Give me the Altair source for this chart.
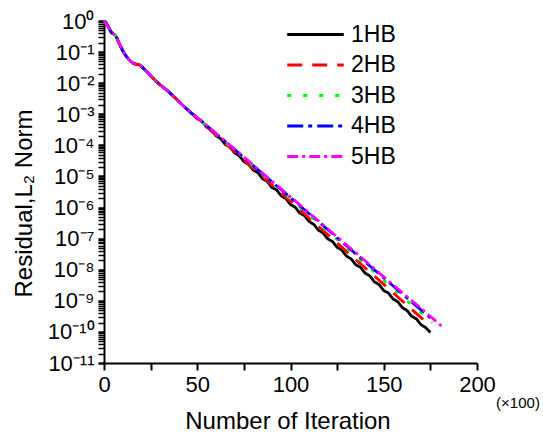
import altair as alt
import pandas as pd

FONT = "Liberation Sans"

series_names = ["1HB", "2HB", "3HB", "4HB", "5HB"]
series_colors = ["#000000", "#ff0000", "#00ff00", "#0000ff", "#ff00ff"]
series_dashes = [[1, 0], [15, 10], [4, 12], [16, 5, 4, 5], [11, 4, 3, 4]]

# iteration (x100) and log10 of residual
x_1hb = [0, 1, 2, 3, 4, 5, 6, 7, 8, 9, 10, 11, 12, 13, 14, 15, 16, 17, 18, 19, 20,
         22, 24, 26, 28, 30, 32, 34, 36, 38, 40, 42, 45, 47,
         50, 52.5, 55, 57.5, 60, 62.5, 65, 67.5, 70, 72.5, 75, 77.5, 80, 82.5, 85, 87.5,
         90, 92.5, 95, 97.5, 100, 102.5, 105, 107.5, 110, 112.5, 115, 117.5, 120, 122.5,
         125, 127.5, 130, 132.5, 135, 137.5, 140, 142.5, 145, 147.5, 150, 152.5, 155,
         157.5, 160, 162.5, 165, 167.5, 170, 172.5, 175]
e_1hb = [0, -0.03, -0.15, -0.28, -0.37, -0.42, -0.45, -0.55, -0.70, -0.83, -0.95, -1.06,
         -1.14, -1.22, -1.28, -1.33, -1.37, -1.39, -1.40, -1.41, -1.45,
         -1.57, -1.69, -1.82, -1.95, -2.05, -2.14, -2.24, -2.35, -2.46, -2.58, -2.70, -2.86, -2.97,
         -3.14, -3.22, -3.41, -3.50, -3.69, -3.78, -3.97, -4.05, -4.24, -4.33, -4.52, -4.61,
         -4.79, -4.88, -5.07, -5.16, -5.35, -5.43, -5.62, -5.71, -5.90, -5.99, -6.18, -6.26,
         -6.45, -6.54, -6.73, -6.82, -7.01, -7.09, -7.28, -7.37, -7.56, -7.65, -7.84, -7.92,
         -8.11, -8.20, -8.39, -8.48, -8.67, -8.75, -8.94, -9.03, -9.22, -9.31, -9.50, -9.58,
         -9.77, -9.86, -10.02]

x_early = [0, 2, 4, 6, 8, 10, 12, 14, 16, 19, 22, 26, 30, 34, 38, 42, 47]
e_early = [0, -0.15, -0.37, -0.45, -0.70, -0.95, -1.14, -1.28, -1.37, -1.41, -1.57,
           -1.82, -2.05, -2.24, -2.46, -2.70, -2.97]

x_2hb = x_early + [50, 60, 70, 80, 90, 100, 110, 120, 130, 140, 150, 160, 170, 175]
e_2hb = e_early + [-3.13, -3.67, -4.20, -4.74, -5.27, -5.80, -6.34, -6.87, -7.41, -7.94,
                   -8.47, -9.01, -9.54, -9.80]

x_3hb = x_early + [50, 60, 70, 80, 90, 100, 110, 120, 130, 140, 150, 160, 170, 176]
e_3hb = e_early + [-3.10, -3.63, -4.15, -4.67, -5.20, -5.72, -6.25, -6.77, -7.29, -7.82,
                   -8.34, -8.87, -9.39, -9.70]

x_4hb = x_early + [50, 60, 70, 80, 90, 100, 110, 120, 130, 140, 150, 160, 170, 175]
e_4hb = e_early + [-3.10, -3.62, -4.13, -4.65, -5.17, -5.68, -6.20, -6.71, -7.23, -7.75,
                   -8.26, -8.78, -9.29, -9.55]

x_5hb = x_early + [50, 60, 70, 80, 90, 100, 110, 120, 130, 140, 150, 160, 170, 181.5]
e_5hb = e_early + [-3.10, -3.61, -4.12, -4.63, -5.15, -5.66, -6.17, -6.69, -7.20, -7.71,
                   -8.23, -8.74, -9.24, -9.84]

x_ticks = [0, 25, 50, 75, 100, 125, 150, 175, 200]
y_ticks = [k * 10.0 ** e for e in range(-11, 0) for k in range(1, 10)] + [1.0]

rows = []
for name, xs, es in zip(series_names,
                        [x_1hb, x_2hb, x_3hb, x_4hb, x_5hb],
                        [e_1hb, e_2hb, e_3hb, e_4hb, e_5hb]):
    for i, (xv, ev) in enumerate(zip(xs, es)):
        rows.append({"series": name, "it": xv, "loge": ev, "order": i})
df = pd.DataFrame(rows)

W, H = 373, 342

is_pow = "abs(log(datum.value)/LN10 - round(log(datum.value)/LN10)) < 1e-6"
sup_map = {"-": "⁻", "0": "⁰", "1": "¹", "2": "²", "3": "³", "4": "⁴",
           "5": "⁵", "6": "⁶", "7": "⁷", "8": "⁸", "9": "⁹"}
expr = "('' + round(log(datum.value)/LN10))"
for k, v in sup_map.items():
    expr = f"replace({expr}, regexp('{k}', 'g'), '{v}')"
y_label_expr = f"({is_pow}) ? '10' + {expr} : ''"

yscale = alt.Scale(type="log", domain=[1e-11, 1], nice=False)
xscale = alt.Scale(domain=[0, 200], nice=False, zero=False)

leg = alt.Legend(title=None, orient="none", legendX=200, legendY=2,
                 symbolType="M-4,0H4", symbolSize=200,
                 symbolStrokeWidth=3, labelFont=FONT,
                 labelFontSize=23, labelColor="black",
                 labelOffset=24, rowPadding=6.5, padding=0)

lines = alt.Chart(df).transform_calculate(
    resid="pow(10, datum.loge)"
).mark_line(strokeWidth=2.8, clip=False).encode(
    x=alt.X("it:Q", scale=xscale,
            axis=alt.Axis(values=x_ticks,
                          labelExpr="datum.value % 50 === 0 ? datum.label : ''",
                          tickSize=7, tickWidth=2, tickColor="black",
                          domainWidth=2, domainColor="black",
                          labelFont=FONT, labelFontSize=22, labelColor="black",
                          labelPadding=4, labelOverlap=False, labelFlush=False,
                          grid=False,
                          title="Number of Iteration", titleFont=FONT,
                          titleFontSize=24, titleFontWeight="normal",
                          titleColor="black", titleX=183.5, titleY=65,
                          titleBaseline="alphabetic", titleAnchor="middle")),
    y=alt.Y("resid:Q", scale=yscale,
            axis=alt.Axis(values=y_ticks, labelExpr=y_label_expr,
                          tickSize=6,
                          tickWidth={"condition": {"test": is_pow, "value": 2.5},
                                     "value": 1.5},
                          tickColor="black",
                          domainWidth=2, domainColor="black",
                          labelFont=FONT, labelFontSize=22, labelColor="black",
                          labelPadding=4, labelOverlap=False, labelFlush=False,
                          grid=False,
                          title="Residual,L₂ Norm", titleFont=FONT,
                          titleFontSize=24, titleFontWeight="normal",
                          titleColor="black", titleX=-73, titleY=182,
                          titleBaseline="alphabetic", titleAngle=270)),
    color=alt.Color("series:N",
                    scale=alt.Scale(domain=series_names, range=series_colors),
                    legend=leg),
    strokeDash=alt.StrokeDash("series:N",
                              scale=alt.Scale(domain=series_names, range=series_dashes),
                              legend=leg),
    order=alt.Order("order:Q"),
)

unit_text = alt.Chart(pd.DataFrame({"t": ["(×100)"]})).mark_text(
    font=FONT, fontSize=15, color="black", align="center", baseline="middle", dx=41
).encode(x=alt.datum(200), y=alt.value(H + 40), text="t:N")

chart = alt.layer(lines, unit_text).properties(
    width=W, height=H,
    autosize=alt.AutoSizeParams(type="none"),
    padding={"left": 104, "top": 21, "right": 543 - 104 - W, "bottom": 444 - 21 - H},
).configure_view(stroke=None)

chart.save("out.html", embed_options={"renderer": "svg", "actions": False})
